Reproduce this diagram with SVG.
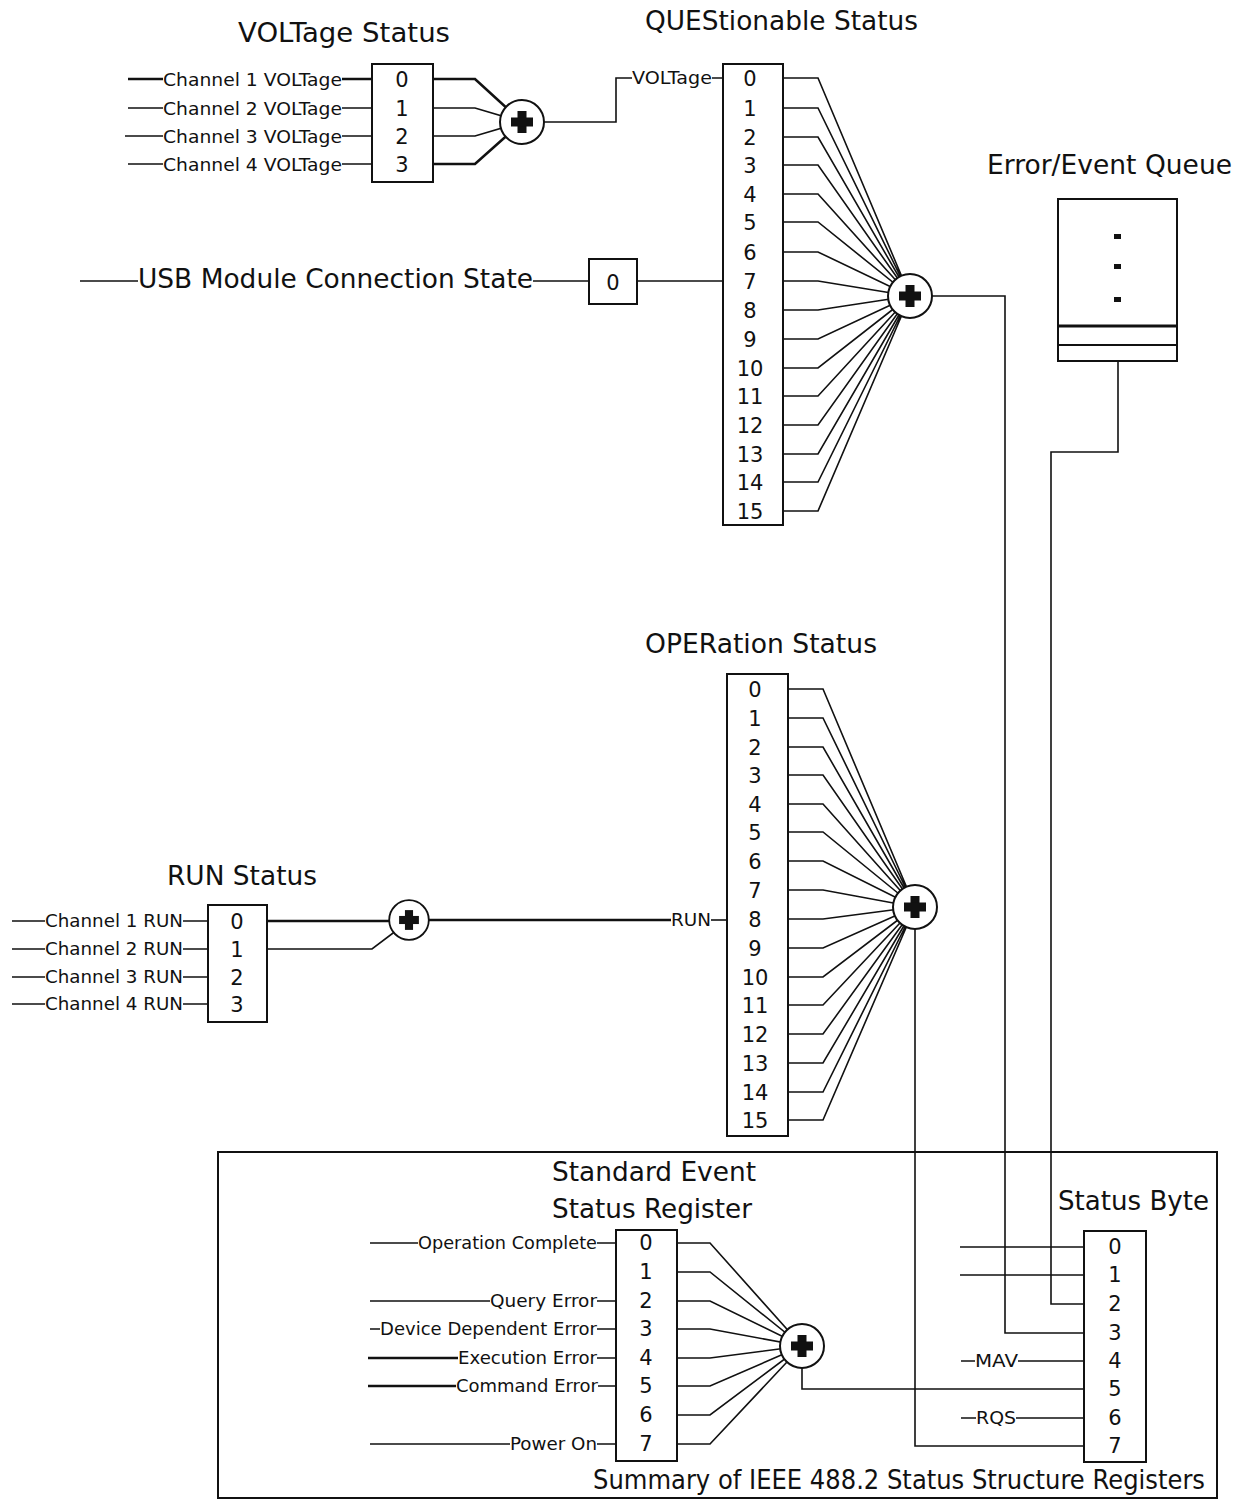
<svg xmlns="http://www.w3.org/2000/svg" xmlns:xlink="http://www.w3.org/1999/xlink" width="1248" height="1500" viewBox="0 0 1248 1500">
<style>
text{font-family:"DejaVu Sans","Liberation Sans",sans-serif;fill:#111}
.t{font-size:27px}
.l{font-size:18px}
.s{font-size:17px}
.d{font-size:21px;text-anchor:middle}
.box{fill:#fff;stroke:#111;stroke-width:2}
.w{fill:none;stroke:#111;stroke-width:1.6;stroke-linejoin:miter}
.k{fill:none;stroke:#111;stroke-width:2.6}
</style>
<defs>
<g id="sum">
<circle cx="0" cy="0" r="22" fill="#fff" stroke="#111" stroke-width="2"/>
<rect x="-4.5" y="-11" width="9" height="22" fill="#111"/>
<rect x="-11" y="-4.5" width="22" height="9" fill="#111"/>
</g>
</defs>
<rect width="1248" height="1500" fill="#fff"/>

<g id="connectors">
<path class="k" d="M128 79H163M342 79H372"/>
<path class="w" d="M128 108H163M342 108H372M125 136H163M342 136H372M128 164H163M342 164H372"/>
<path class="k" d="M433 79H475L522 122M433 164H475L522 122"/>
<path class="w" d="M433 108H475L522 122M433 136H475L522 122"/>
<path class="w" d="M522 122H616V78H632M712 78H723"/>
<path class="w" d="M80 281H138M533 281H589M637 281H723"/>
<path class="w" d="M783 78H818L910 296M783 108H818L910 296M783 137H818L910 296M783 165H818L910 296M783 194H818L910 296M783 222H818L910 296M783 252H818L910 296M783 281H818L910 296M783 310H818L910 296M783 339H818L910 296M783 368H818L910 296M783 396H818L910 296M783 425H818L910 296M783 454H818L910 296M783 482H818L910 296M783 511H818L910 296"/>
<path class="w" d="M910 296H1005V1333H1084"/>
<path class="w" d="M1118 361V452H1051V1304H1084"/>
<path class="w" d="M12 921H45M183 921H208M12 949H45M183 949H208M12 977H45M183 977H208M12 1004H45M183 1004H208"/>
<path class="k" d="M267 921H409"/>
<path class="w" d="M267 949H372L409 921"/>
<path class="k" d="M409 920H671"/>
<path class="w" d="M711 920H727"/>
<path class="w" d="M788 689H823L915 907M788 718H823L915 907M788 747H823L915 907M788 775H823L915 907M788 804H823L915 907M788 832H823L915 907M788 861H823L915 907M788 890H823L915 907M788 919H823L915 907M788 948H823L915 907M788 977H823L915 907M788 1005H823L915 907M788 1034H823L915 907M788 1063H823L915 907M788 1092H823L915 907M788 1120H823L915 907"/>
<path class="w" d="M915 907V1446H1084"/>
<path class="w" d="M370 1243H418M597 1243H616M370 1301H490M597 1301H616M370 1329H380M597 1329H616M370 1444H510M597 1444H616"/>
<path class="k" d="M368 1358H458M368 1386H456"/>
<path class="w" d="M597 1358H616M598 1386H616"/>
<path class="w" d="M677 1243H710L802 1346M677 1272H710L802 1346M677 1301H710L802 1346M677 1329H710L802 1346M677 1358H710L802 1346M677 1386H710L802 1346M677 1415H710L802 1346M677 1444H710L802 1346"/>
<path class="w" d="M802 1346V1389H1084"/>
<path class="w" d="M960 1247H1084M960 1275H1084M961 1361H975M1018 1361H1084M961 1418H976M1016 1418H1084"/>
</g>

<g id="summary-frame">
<rect x="218" y="1152" width="999" height="346" fill="none" stroke="#111" stroke-width="2"/>
<text class="t" x="593" y="1489" font-size="26" textLength="612" lengthAdjust="spacingAndGlyphs">Summary of IEEE 488.2 Status Structure Registers</text>
</g>

<g id="voltage-status">
<text class="t" x="238" y="42" textLength="212" lengthAdjust="spacingAndGlyphs">VOLTage Status</text>
<text class="l" x="163" y="86" textLength="179" lengthAdjust="spacingAndGlyphs">Channel 1 VOLTage</text>
<text class="l" x="163" y="115" textLength="179" lengthAdjust="spacingAndGlyphs">Channel 2 VOLTage</text>
<text class="l" x="163" y="143" textLength="179" lengthAdjust="spacingAndGlyphs">Channel 3 VOLTage</text>
<text class="l" x="163" y="171" textLength="179" lengthAdjust="spacingAndGlyphs">Channel 4 VOLTage</text>
<rect class="box" x="372" y="64" width="61" height="118"/>
<text class="d" x="402" y="87">0</text>
<text class="d" x="402" y="116">1</text>
<text class="d" x="402" y="144">2</text>
<text class="d" x="402" y="172">3</text>
</g>
<g id="voltage-sum"><use xlink:href="#sum" href="#sum" x="522" y="122"/></g>

<g id="usb-state">
<text class="t" x="138" y="288" textLength="395" lengthAdjust="spacingAndGlyphs">USB Module Connection State</text>
<rect class="box" x="589" y="259" width="48" height="45"/>
<text class="d" x="613" y="290">0</text>
</g>

<g id="questionable-status">
<text class="t" x="645" y="30" textLength="273" lengthAdjust="spacingAndGlyphs">QUEStionable Status</text>
<text class="s" x="632" y="84" textLength="80" lengthAdjust="spacingAndGlyphs">VOLTage</text>
<rect class="box" x="723" y="64" width="60" height="461"/>
<text class="d" x="750" y="86">0</text>
<text class="d" x="750" y="116">1</text>
<text class="d" x="750" y="145">2</text>
<text class="d" x="750" y="173">3</text>
<text class="d" x="750" y="202">4</text>
<text class="d" x="750" y="230">5</text>
<text class="d" x="750" y="260">6</text>
<text class="d" x="750" y="289">7</text>
<text class="d" x="750" y="318">8</text>
<text class="d" x="750" y="347">9</text>
<text class="d" x="750" y="376">10</text>
<text class="d" x="750" y="404">11</text>
<text class="d" x="750" y="433">12</text>
<text class="d" x="750" y="462">13</text>
<text class="d" x="750" y="490">14</text>
<text class="d" x="750" y="519">15</text>
</g>
<g id="questionable-sum"><use xlink:href="#sum" href="#sum" x="910" y="296"/></g>

<g id="error-queue">
<text class="t" x="987" y="174" textLength="245" lengthAdjust="spacingAndGlyphs">Error/Event Queue</text>
<rect class="box" x="1058" y="199" width="119" height="162"/>
<line x1="1058" y1="326" x2="1177" y2="326" stroke="#111" stroke-width="3"/>
<line x1="1058" y1="345" x2="1177" y2="345" stroke="#111" stroke-width="2"/>
<rect x="1114" y="234" width="7" height="5" fill="#111"/>
<rect x="1114" y="264" width="7" height="5" fill="#111"/>
<rect x="1114" y="297" width="7" height="5" fill="#111"/>
</g>

<g id="run-status">
<text class="t" x="167" y="885" textLength="150" lengthAdjust="spacingAndGlyphs">RUN Status</text>
<text class="l" x="45" y="927" textLength="138" lengthAdjust="spacingAndGlyphs">Channel 1 RUN</text>
<text class="l" x="45" y="955" textLength="138" lengthAdjust="spacingAndGlyphs">Channel 2 RUN</text>
<text class="l" x="45" y="983" textLength="138" lengthAdjust="spacingAndGlyphs">Channel 3 RUN</text>
<text class="l" x="45" y="1010" textLength="138" lengthAdjust="spacingAndGlyphs">Channel 4 RUN</text>
<rect class="box" x="208" y="905" width="59" height="117"/>
<text class="d" x="237" y="929">0</text>
<text class="d" x="237" y="957">1</text>
<text class="d" x="237" y="985">2</text>
<text class="d" x="237" y="1012">3</text>
</g>
<g id="run-sum"><use xlink:href="#sum" href="#sum" transform="translate(409 920) scale(0.9)"/></g>

<g id="operation-status">
<text class="t" x="645" y="653" textLength="232" lengthAdjust="spacingAndGlyphs">OPERation Status</text>
<text class="s" x="671" y="926" textLength="40" lengthAdjust="spacingAndGlyphs">RUN</text>
<rect class="box" x="727" y="674" width="61" height="462"/>
<text class="d" x="755" y="697">0</text>
<text class="d" x="755" y="726">1</text>
<text class="d" x="755" y="755">2</text>
<text class="d" x="755" y="783">3</text>
<text class="d" x="755" y="812">4</text>
<text class="d" x="755" y="840">5</text>
<text class="d" x="755" y="869">6</text>
<text class="d" x="755" y="898">7</text>
<text class="d" x="755" y="927">8</text>
<text class="d" x="755" y="956">9</text>
<text class="d" x="755" y="985">10</text>
<text class="d" x="755" y="1013">11</text>
<text class="d" x="755" y="1042">12</text>
<text class="d" x="755" y="1071">13</text>
<text class="d" x="755" y="1100">14</text>
<text class="d" x="755" y="1128">15</text>
</g>
<g id="operation-sum"><use xlink:href="#sum" href="#sum" x="915" y="907"/></g>

<g id="standard-event-status">
<text class="t" x="552" y="1181" textLength="204" lengthAdjust="spacingAndGlyphs">Standard Event</text>
<text class="t" x="552" y="1218" textLength="200" lengthAdjust="spacingAndGlyphs">Status Register</text>
<text class="l" x="418" y="1249" textLength="179" lengthAdjust="spacingAndGlyphs">Operation Complete</text>
<text class="l" x="490" y="1307" textLength="107" lengthAdjust="spacingAndGlyphs">Query Error</text>
<text class="l" x="380" y="1335" textLength="217" lengthAdjust="spacingAndGlyphs">Device Dependent Error</text>
<text class="l" x="458" y="1364" textLength="139" lengthAdjust="spacingAndGlyphs">Execution Error</text>
<text class="l" x="456" y="1392" textLength="142" lengthAdjust="spacingAndGlyphs">Command Error</text>
<text class="l" x="510" y="1450" textLength="87" lengthAdjust="spacingAndGlyphs">Power On</text>
<rect class="box" x="616" y="1230" width="61" height="231"/>
<text class="d" x="646" y="1250">0</text>
<text class="d" x="646" y="1279">1</text>
<text class="d" x="646" y="1308">2</text>
<text class="d" x="646" y="1336">3</text>
<text class="d" x="646" y="1365">4</text>
<text class="d" x="646" y="1393">5</text>
<text class="d" x="646" y="1422">6</text>
<text class="d" x="646" y="1451">7</text>
</g>
<g id="standard-event-sum"><use xlink:href="#sum" href="#sum" x="802" y="1346"/></g>

<g id="status-byte">
<text class="t" x="1058" y="1210" textLength="151" lengthAdjust="spacingAndGlyphs">Status Byte</text>
<text class="s" x="975" y="1367" textLength="43" lengthAdjust="spacingAndGlyphs">MAV</text>
<text class="s" x="976" y="1424" textLength="40" lengthAdjust="spacingAndGlyphs">RQS</text>
<rect class="box" x="1084" y="1231" width="62" height="231"/>
<text class="d" x="1115" y="1254">0</text>
<text class="d" x="1115" y="1282">1</text>
<text class="d" x="1115" y="1311">2</text>
<text class="d" x="1115" y="1340">3</text>
<text class="d" x="1115" y="1368">4</text>
<text class="d" x="1115" y="1396">5</text>
<text class="d" x="1115" y="1425">6</text>
<text class="d" x="1115" y="1453">7</text>
</g>
</svg>
